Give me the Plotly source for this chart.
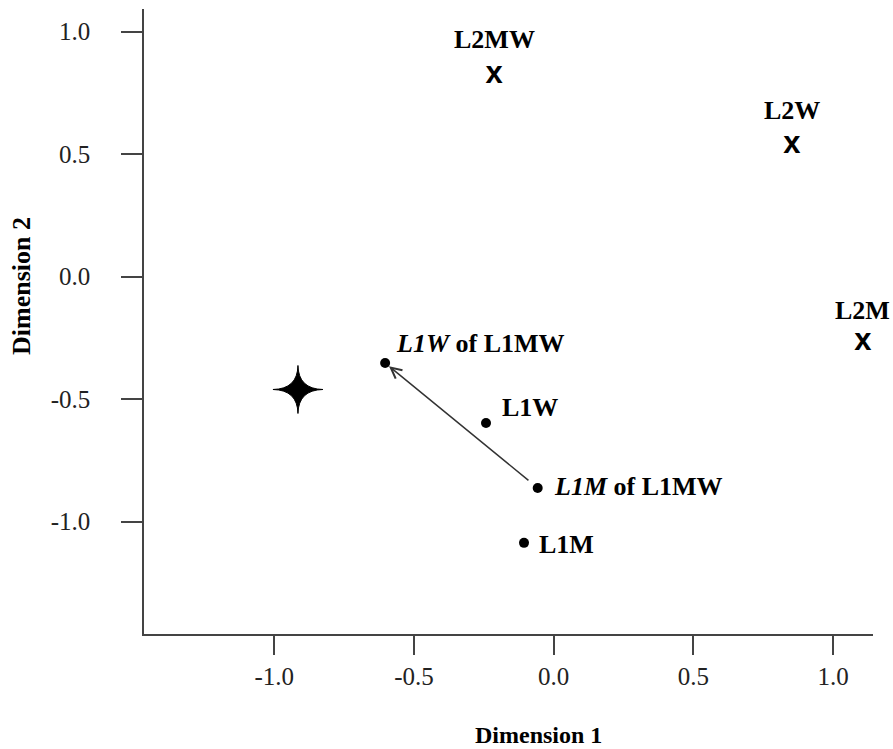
import plotly.graph_objects as go

# ---- data ----
l2_names = ["L2MW", "L2W", "L2M"]
l2_x = [-0.213, 0.853, 1.107]
l2_y = [0.823, 0.537, -0.267]

l1_names = ["<i>L1W</i> of L1MW", "L1W", "<i>L1M</i> of L1MW", "L1M"]
l1_x = [-0.603, -0.242, -0.057, -0.106]
l1_y = [-0.353, -0.598, -0.863, -1.087]

star_x = [-0.915]
star_y = [-0.461]

tick_vals = [-1.0, -0.5, 0.0, 0.5, 1.0]
tick_text = ["-1.0", "-0.5", "0.0", "0.5", "1.0"]

x_title = "Dimension 1"
y_title = "Dimension 2"

SERIF = "Liberation Serif"
SANS = "Liberation Sans"
AX = "#444444"

W, H = 893, 749
ML, MR, MT, MB = 144, 20, 9, 115
PW, PH = W - ML - MR, H - MT - MB


def paper_x(px):
    return (px - ML) / PW


def paper_y(py):
    return (H - MB - py) / PH


fig = go.Figure()

# L2 points drawn as bold "x" glyphs
fig.add_trace(go.Scatter(
    x=l2_x, y=l2_y, mode="text",
    text=["<b>x</b>"] * len(l2_x),
    textposition="middle center",
    textfont=dict(family=SANS, size=31, color="black"),
    hoverinfo="skip", showlegend=False))

# L1 points as filled dots
fig.add_trace(go.Scatter(
    x=l1_x, y=l1_y, mode="markers",
    marker=dict(size=10, color="black"),
    hoverinfo="skip", showlegend=False))

# invisible anchor for the star
fig.add_trace(go.Scatter(
    x=star_x, y=star_y, mode="markers",
    marker=dict(size=1, color="rgba(0,0,0,0)"),
    hoverinfo="skip", showlegend=False))

# four-pointed star (pixel-sized path anchored on the data point)
fig.add_shape(
    type="path", xref="x", yref="y",
    xsizemode="pixel", ysizemode="pixel",
    xanchor=star_x[0], yanchor=star_y[0],
    path="M 0,24 Q 0.5,0.5 25,0 Q 0.5,-0.5 0,-24 Q -0.5,-0.5 -25,0 Q -0.5,0.5 0,24 Z",
    fillcolor="black", line=dict(color="black", width=1))

# arrow from L1M of L1MW to L1W of L1MW
fig.add_annotation(
    x=l1_x[0], y=l1_y[0], ax=l1_x[2], ay=l1_y[2],
    xref="x", yref="y", axref="x", ayref="y",
    text="", showarrow=True, arrowhead=5, arrowsize=1.4,
    arrowwidth=1.5, arrowcolor="#333333", standoff=5, startstandoff=10)

# labels
l2_shift = [35, 34, 31]
for name, x, y, ys in zip(l2_names, l2_x, l2_y, l2_shift):
    fig.add_annotation(x=x, y=y, text=f"<b>{name}</b>", showarrow=False,
                       xanchor="center", yanchor="middle", yshift=ys,
                       font=dict(family=SERIF, size=26, color="black"))

l1_xshift = [9, 14, 14, 13]
l1_yshift = [20, 16, 1, -2]
for name, x, y, xs, ys in zip(l1_names, l1_x, l1_y, l1_xshift, l1_yshift):
    fig.add_annotation(x=x, y=y, text=f"<b>{name}</b>", showarrow=False,
                       xanchor="left", yanchor="middle", xshift=xs, yshift=ys,
                       font=dict(family=SERIF, size=26, color="black"))

# axis titles
fig.add_annotation(text=f"<b>{x_title}</b>", xref="paper", yref="paper",
                   x=paper_x(538), y=paper_y(735), showarrow=False,
                   xanchor="center", yanchor="middle",
                   font=dict(family=SERIF, size=24, color="black"))
fig.add_annotation(text=f"<b>{y_title}</b>", xref="paper", yref="paper",
                   x=paper_x(21), y=paper_y(286), showarrow=False,
                   xanchor="center", yanchor="middle", textangle=-90,
                   font=dict(family=SERIF, size=26, color="black"))

fig.update_layout(
    width=W, height=H,
    margin=dict(l=ML, r=MR, t=MT, b=MB),
    paper_bgcolor="white", plot_bgcolor="white",
    showlegend=False,
    xaxis=dict(range=[-1.466, 1.143], showgrid=False, zeroline=False,
               showline=True, linecolor=AX, linewidth=1.5,
               ticks="outside", ticklen=19, tickwidth=1.5, tickcolor=AX,
               tickvals=tick_vals, ticktext=tick_text,
               tickfont=dict(family=SERIF, size=25, color="#222222")),
    yaxis=dict(range=[-1.459, 1.092], showgrid=False, zeroline=False,
               showline=True, linecolor=AX, linewidth=1.5,
               ticks="outside", ticklen=21, tickwidth=1.5, tickcolor=AX,
               tickvals=tick_vals, ticktext=tick_text, ticklabelstandoff=26,
               tickfont=dict(family=SERIF, size=25, color="#222222")),
)

fig.write_html(
    "out.html",
    config={"displayModeBar": False},
    post_script="document.body.style.margin='0';document.body.style.overflow='hidden';",
)
